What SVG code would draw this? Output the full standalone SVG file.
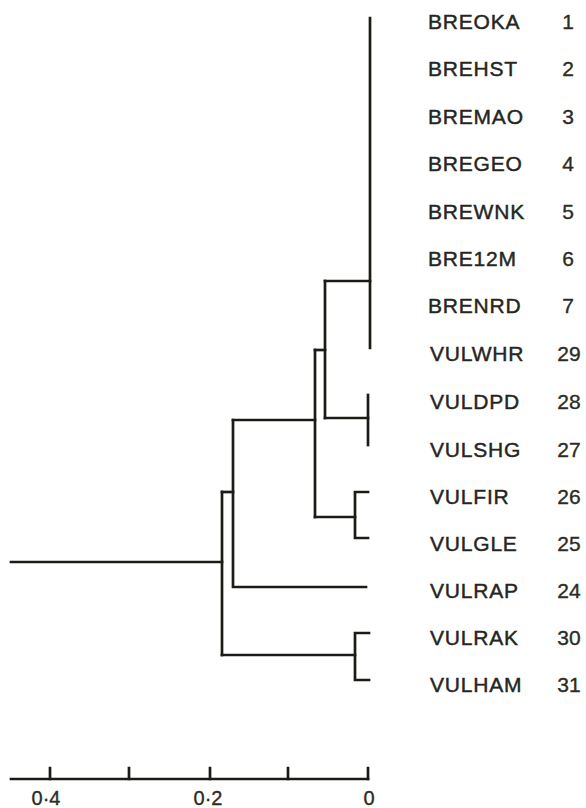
<svg xmlns="http://www.w3.org/2000/svg" width="586" height="808" viewBox="0 0 586 808">
  <style>
    .bg { fill: #ffffff; }
    .br { fill: none; stroke: #1c1c16; stroke-width: 2.7; stroke-linecap: square; stroke-linejoin: miter; }
    .lbl { font-family: "Liberation Sans", Arial, sans-serif; font-size: 21px; letter-spacing: 0.8px; fill: #26261e; stroke: #26261e; stroke-width: 0.45; }
    .num { font-family: "Liberation Sans", Arial, sans-serif; font-size: 21px; fill: #2c2c24; stroke: #2c2c24; stroke-width: 0.35; text-anchor: middle; }
    .ax { font-family: "Liberation Sans", Arial, sans-serif; font-size: 20px; fill: #2c2c24; stroke: #2c2c24; stroke-width: 0.35; text-anchor: middle; }
  </style>
  <rect class="bg" x="0" y="0" width="586" height="808"/>

  <!-- dendrogram branches -->
  <g id="connectors">
    <!-- clusters joined at zero distance (leaves 1-7 and 29) -->
    <path class="br" d="M370 18 V348"/>
    <path class="br" d="M325 281 H370"/>
    <!-- 28 + 27 -->
    <path class="br" d="M368 395 V445"/>
    <path class="br" d="M325 418 H368"/>
    <path class="br" d="M325 281 V418"/>
    <!-- 26 + 25 -->
    <path class="br" d="M368 492 H355 V538 H368"/>
    <path class="br" d="M315 517 H355"/>
    <!-- join of the upper groups -->
    <path class="br" d="M315 350 H325"/>
    <path class="br" d="M315 350 V517"/>
    <!-- add 24 -->
    <path class="br" d="M233 420 H315"/>
    <path class="br" d="M233 420 V587 H366"/>
    <!-- 30 + 31 -->
    <path class="br" d="M369 633 H355 V680 H369"/>
    <path class="br" d="M222 655 H355"/>
    <!-- root -->
    <path class="br" d="M222 492 H233"/>
    <path class="br" d="M222 492 V655"/>
    <path class="br" d="M11 562 H222"/>
  </g>

  <!-- leaf labels -->
  <g id="leaf-1"><text class="lbl" x="428" y="29">BREOKA</text><text class="num" x="568" y="29">1</text></g>
  <g id="leaf-2"><text class="lbl" x="428" y="76">BREHST</text><text class="num" x="568" y="76">2</text></g>
  <g id="leaf-3"><text class="lbl" x="428" y="124">BREMAO</text><text class="num" x="568" y="124">3</text></g>
  <g id="leaf-4"><text class="lbl" x="428" y="171">BREGEO</text><text class="num" x="568" y="171">4</text></g>
  <g id="leaf-5"><text class="lbl" x="428" y="219">BREWNK</text><text class="num" x="568" y="219">5</text></g>
  <g id="leaf-6"><text class="lbl" x="428" y="266">BRE12M</text><text class="num" x="568" y="266">6</text></g>
  <g id="leaf-7"><text class="lbl" x="428" y="313">BRENRD</text><text class="num" x="568" y="313">7</text></g>
  <g id="leaf-29"><text class="lbl" x="430" y="361">VULWHR</text><text class="num" x="569" y="361">29</text></g>
  <g id="leaf-28"><text class="lbl" x="430" y="409">VULDPD</text><text class="num" x="569" y="409">28</text></g>
  <g id="leaf-27"><text class="lbl" x="430" y="457">VULSHG</text><text class="num" x="569" y="457">27</text></g>
  <g id="leaf-26"><text class="lbl" x="430" y="504">VULFIR</text><text class="num" x="569" y="504">26</text></g>
  <g id="leaf-25"><text class="lbl" x="430" y="551">VULGLE</text><text class="num" x="569" y="551">25</text></g>
  <g id="leaf-24"><text class="lbl" x="430" y="598">VULRAP</text><text class="num" x="569" y="598">24</text></g>
  <g id="leaf-30"><text class="lbl" x="430" y="645">VULRAK</text><text class="num" x="569" y="645">30</text></g>
  <g id="leaf-31"><text class="lbl" x="430" y="692">VULHAM</text><text class="num" x="569" y="692">31</text></g>

  <!-- distance scale -->
  <g id="axis">
    <path class="br" d="M11 779 H368"/>
    <path class="br" d="M50 768 V779 M129 768 V779 M210 768 V779 M288 768 V779 M368 768 V779"/>
    <text class="ax" x="46" y="805">0·4</text>
    <text class="ax" x="208" y="805">0·2</text>
    <text class="ax" x="369" y="805">0</text>
  </g>
</svg>
